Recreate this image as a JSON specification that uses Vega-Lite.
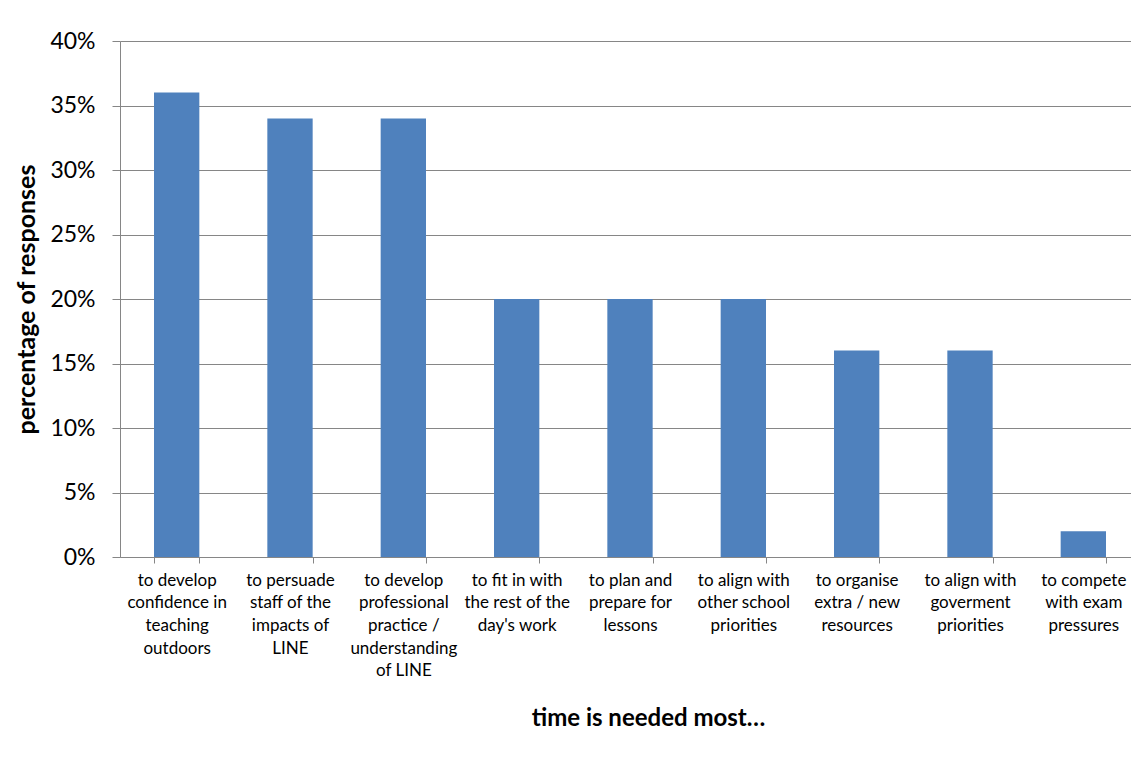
{
  "$schema": "https://vega.github.io/schema/vega-lite/v6.json",
  "autosize": "none",
  "width": 1011,
  "height": 516,
  "padding": {"left": 120, "top": 41, "right": 0, "bottom": 204},
  "background": "white",
  "config": {
    "view": {"stroke": null},
    "font": "Lato",
    "axis": {"labelColor": "#000000", "titleColor": "#000000", "domainColor": "#868686", "tickColor": "#868686", "gridColor": "#868686"}
  },
  "data": {
    "values": [
      {"category": "to develop|confidence in|teaching|outdoors", "share": 0.36},
      {"category": "to persuade|staff of the|impacts of|LINE", "share": 0.34},
      {"category": "to develop|professional|practice /|understanding|of LINE", "share": 0.34},
      {"category": "to fit in with|the rest of the|day's work", "share": 0.20},
      {"category": "to plan and|prepare for|lessons", "share": 0.20},
      {"category": "to align with|other school|priorities", "share": 0.20},
      {"category": "to organise|extra / new|resources", "share": 0.16},
      {"category": "to align with|goverment|priorities", "share": 0.16},
      {"category": "to compete|with exam|pressures", "share": 0.02}
    ]
  },
  "mark": {"type": "bar", "color": "#4F81BD"},
  "encoding": {
    "x": {
      "field": "category",
      "type": "nominal",
      "sort": null,
      "scale": {"range": [0, 1020], "paddingInner": 0.6, "paddingOuter": 0.3},
      "axis": {
        "title": "time is needed most\u2026",
        "titleFontSize": 24,
        "titleFontWeight": "bold",
        "titleX": 528,
        "titleY": 168,
        "titleBaseline": "alphabetic",
        "labelExpr": "split(datum.label, '|')",
        "labelAngle": 0,
        "labelFontSize": 17,
        "labelLineHeight": 22.7,
        "labelPadding": 9,
        "labelBaseline": "top",
        "tickBand": "extent",
        "tickSize": 6,
        "domainWidth": 1,
        "grid": false
      }
    },
    "y": {
      "field": "share",
      "type": "quantitative",
      "scale": {"domain": [0, 0.4], "nice": false},
      "axis": {
        "title": "percentage of responses",
        "titleFontSize": 25,
        "titleFontWeight": "bold",
        "titlePadding": 10,
        "format": ".0%",
        "values": [0, 0.05, 0.1, 0.15, 0.2, 0.25, 0.3, 0.35, 0.4],
        "labelFontSize": 23,
        "labelPadding": 17,
        "tickSize": 8,
        "grid": true,
        "gridWidth": 1
      }
    }
  }
}
